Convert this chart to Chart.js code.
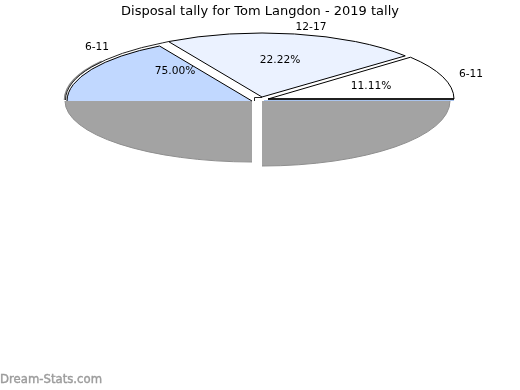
<!DOCTYPE html>
<html>
<head>
<meta charset="utf-8">
<style>
  html, body { margin: 0; padding: 0; background: #fff; }
  canvas { display: block; }
</style>
<script src="https://cdn.jsdelivr.net/npm/chart.js@4"></script>
</head>
<body>
<canvas id="chart" width="520" height="390"></canvas>
<script>
const sliceLabels = ['6-11', '12-17', '6-11', '', ''];
const sliceShares = [16.67, 22.22, 11.11, 25, 25];
const pctLabels = ['75.00%', '22.22%', '11.11%', '', ''];

const FONT = '"DejaVu Sans", sans-serif';

// where each slice ends up on the flattened, exploded pie
const SLICE_VIEW = [
  { ax: 252, ay: 101, rx: 185, ry: 63.5, fill: '#c1d8ff', edges: true, stroke: '#000' },
  { ax: 262, ay: 97, rx: 187, ry: 64, fill: '#ebf2ff', edges: true, stroke: '#000' },
  { ax: 268, ay: 99, rx: 186, ry: 65, fill: '#ffffff', edges: true, stroke: '#000' },
  { ax: 262, ay: 101, rx: 188, ry: 65, fill: '#a3a3a3', edges: false, stroke: '#8e8e8e' },
  { ax: 252, ay: 101, rx: 187, ry: 61, fill: '#a3a3a3', edges: false, stroke: '#8e8e8e' },
];
const DRAW_ORDER = [4, 3, 0, 1, 2];
// white plate that sits behind the blue slice
const BLUE_BACKING = { ax: 260, ay: 100, rx: 194.5, ry: 66 };

const NAME_POS = [[97, 47], [311, 27], [471, 74]];
const PCT_POS = [[175, 71], [280, 60], [371, 86]];

function outline(ctx, arc, v, withEdges) {
  ctx.beginPath();
  if (withEdges) ctx.moveTo(v.ax, v.ay);
  ctx.ellipse(v.ax, v.ay, v.rx, v.ry, 0, arc.startAngle, arc.endAngle);
  if (withEdges) ctx.closePath();
}

function rimPoint(v, angle) {
  return [v.ax + v.rx * Math.cos(angle), v.ay + v.ry * Math.sin(angle)];
}

const flatPie = {
  id: 'flatPie',
  beforeDatasetDraw(chart, args) {
    const ctx = chart.ctx;
    const arcs = args.meta.data;

    DRAW_ORDER.forEach((i) => {
      const arc = arcs[i];
      const v = SLICE_VIEW[i];

      if (i === 0) {
        const b = BLUE_BACKING;
        ctx.save();
        ctx.fillStyle = '#fff';
        outline(ctx, arc, b, true);
        ctx.fill();

        // soft grey rim, only on the far left
        ctx.strokeStyle = '#8a8a8a';
        ctx.lineWidth = 1.5;
        ctx.beginPath();
        ctx.ellipse(b.ax - 1, b.ay, b.rx, b.ry, 0, arc.startAngle, arc.startAngle + (arc.endAngle - arc.startAngle) * 0.6);
        ctx.stroke();

        // black rim runs on up to the corner of the next slice
        const corner = rimPoint(SLICE_VIEW[1], arcs[1].startAngle);
        ctx.strokeStyle = '#222';
        ctx.lineWidth = 1;
        outline(ctx, arc, b, false);
        ctx.lineTo(corner[0], corner[1]);
        ctx.stroke();

        // little white box at the tip of the blue slice
        ctx.fillRect(254, 97, 8, 4);
        ctx.beginPath();
        ctx.moveTo(254.5, 101);
        ctx.lineTo(254.5, 97.5);
        ctx.lineTo(262, 97.5);
        ctx.stroke();
        ctx.restore();
      }

      // fill comes from the library's own arc, squashed onto the ellipse
      ctx.save();
      ctx.translate(v.ax, v.ay);
      ctx.scale(v.rx / arc.outerRadius, v.ry / arc.outerRadius);
      ctx.translate(-arc.x, -arc.y);
      arc.draw(ctx);
      ctx.restore();

      // outlines done here so the squash doesn't thin them out
      ctx.save();
      ctx.strokeStyle = v.stroke;
      ctx.lineWidth = 1;
      if (i === 0) {
        const p = rimPoint(v, arc.endAngle);
        ctx.beginPath();
        ctx.moveTo(v.ax, v.ay);
        ctx.lineTo(p[0], p[1]);
        ctx.ellipse(v.ax, v.ay, v.rx, v.ry, 0, arc.endAngle, arc.startAngle, true);
      } else {
        outline(ctx, arc, v, v.edges);
      }
      ctx.stroke();
      ctx.restore();
    });

    // heavier floor line of the white slice and the blue sliver under it
    const w = SLICE_VIEW[2];
    ctx.save();
    ctx.strokeStyle = '#000';
    ctx.lineWidth = 1.6;
    ctx.beginPath();
    ctx.moveTo(w.ax, w.ay);
    ctx.lineTo(w.ax + w.rx, w.ay);
    ctx.stroke();
    ctx.strokeStyle = '#a9c4ee';
    ctx.lineWidth = 1;
    ctx.beginPath();
    ctx.moveTo(w.ax - 4, w.ay + 1.5);
    ctx.lineTo(w.ax + w.rx, w.ay + 1.5);
    ctx.stroke();
    ctx.restore();

    return false;
  },
  afterDraw(chart) {
    const ctx = chart.ctx;
    ctx.save();
    ctx.fillStyle = '#000';
    ctx.font = '10.67px ' + FONT;
    ctx.textAlign = 'center';
    ctx.textBaseline = 'middle';
    NAME_POS.forEach((p, i) => ctx.fillText(sliceLabels[i], p[0], p[1]));
    PCT_POS.forEach((p, i) => ctx.fillText(pctLabels[i], p[0], p[1]));

    ctx.fillStyle = '#9c9c9c';
    ctx.strokeStyle = '#9c9c9c';
    ctx.lineWidth = 0.4;
    ctx.font = '11.7px ' + FONT;
    ctx.textAlign = 'left';
    ctx.fillText('Dream-Stats.com', 0, 380);
    ctx.strokeText('Dream-Stats.com', 0, 380);
    ctx.restore();
  },
};

new Chart(document.getElementById('chart'), {
  type: 'pie',
  data: {
    labels: sliceLabels,
    datasets: [{
      data: sliceShares,
      backgroundColor: SLICE_VIEW.map((v) => v.fill),
      borderWidth: 0,
    }],
  },
  options: {
    responsive: false,
    animation: false,
    rotation: -90,
    layout: { padding: 0 },
    plugins: {
      legend: { display: false },
      tooltip: { enabled: false },
      title: {
        display: true,
        text: 'Disposal tally for Tom Langdon - 2019 tally',
        color: '#000',
        font: { family: FONT, size: 13, weight: 'normal' },
        padding: { top: 4, bottom: 4 },
      },
    },
  },
  plugins: [flatPie],
});
</script>
</body>
</html>
